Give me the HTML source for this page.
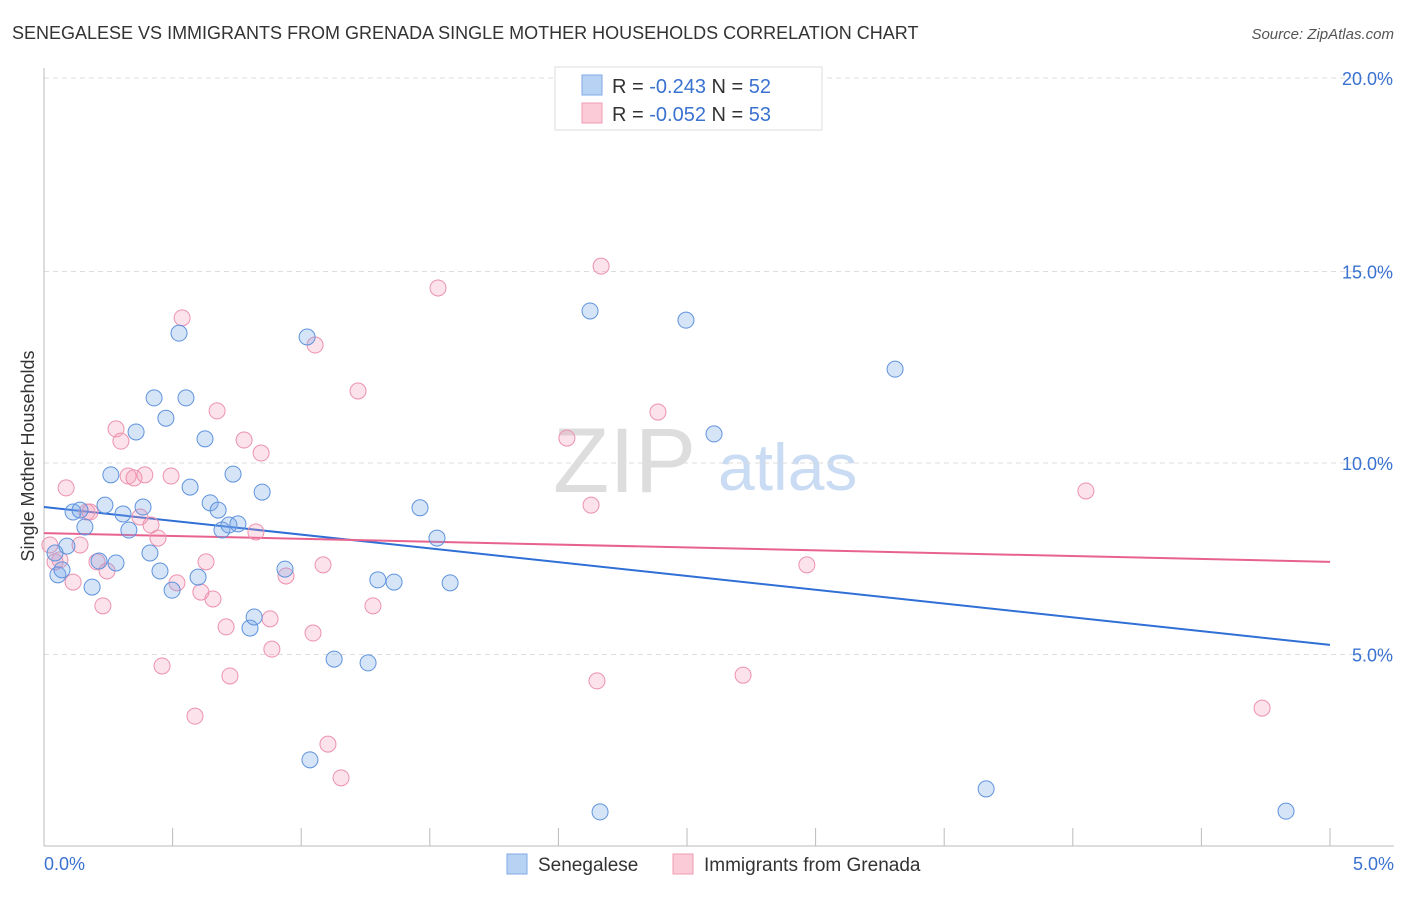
<!DOCTYPE html>
<html><head><meta charset="utf-8"><style>
body{margin:0;background:#fff;font-family:"Liberation Sans",sans-serif;}
svg text{font-family:"Liberation Sans",sans-serif;}
</style></head><body>
<svg id="chart" width="1406" height="892" viewBox="0 0 1406 892" xmlns="http://www.w3.org/2000/svg">
<text x="12" y="39" font-size="18" fill="#333">SENEGALESE VS IMMIGRANTS FROM GRENADA SINGLE MOTHER HOUSEHOLDS CORRELATION CHART</text>
<text x="1394" y="39" font-size="15" fill="#555" font-style="italic" text-anchor="end">Source: ZipAtlas.com</text>
<g>
<text x="553" y="492" font-size="92" fill="#ddd" font-family="Liberation Serif,serif">ZIP</text>
<text x="718" y="490" font-size="66" fill="#c9dcf3">atlas</text>
</g>
<g id="grid"></g>
<g id="axes"></g>
<g id="trends"></g>
<g id="points"></g>
<text transform="translate(34,456) rotate(-90)" font-size="18" fill="#333" text-anchor="middle">Single Mother Households</text>
<g>
<rect x="555" y="67" width="267" height="63" fill="#fff" stroke="#ddd"/>
<rect x="582" y="75" width="20" height="20" fill="#b8d2f4" stroke="#7faae6"/>
<rect x="582" y="103" width="20" height="20" fill="#fbcbd8" stroke="#ef9bb5"/>
<text x="612" y="93" font-size="20" fill="#333">R = <tspan fill="#3a72d0">-0.243</tspan>   N = <tspan fill="#3a72d0">52</tspan></text>
<text x="612" y="121" font-size="20" fill="#333">R = <tspan fill="#3a72d0">-0.052</tspan>   N = <tspan fill="#3a72d0">53</tspan></text>
</g>
<g>
<rect x="507" y="854" width="20" height="20" fill="#b8d2f4" stroke="#7faae6"/>
<text x="538" y="871" font-size="19" fill="#333">Senegalese</text>
<rect x="673" y="854" width="20" height="20" fill="#fbcbd8" stroke="#ef9bb5"/>
<text x="704" y="871" font-size="19" fill="#333">Immigrants from Grenada</text>
</g>
</svg>
<script>
const yTicks=[5,10,15,20];
const yTickLabels=["5.0%","10.0%","15.0%","20.0%"];
const xTickLabels=["0.0%","5.0%"];
const blueX=[0.043,0.054,0.070,0.089,0.113,0.140,0.159,0.187,0.214,0.237,0.260,0.280,0.307,0.330,0.358,0.385,0.412,0.428,0.451,0.474,0.498,0.525,0.552,0.568,0.599,0.626,0.646,0.677,0.692,0.719,0.735,0.754,0.801,0.817,0.848,0.937,1.023,1.034,1.128,1.260,1.298,1.361,1.462,1.528,1.579,2.123,2.162,2.496,2.605,3.309,3.663,4.829];
const blueY=[7.65,7.08,7.21,7.83,8.72,8.77,8.33,6.76,7.44,8.90,9.69,7.39,8.67,8.25,10.81,8.85,7.65,11.70,7.18,11.17,6.68,13.39,11.70,9.37,7.02,10.63,8.96,8.77,8.25,8.38,9.71,8.41,5.69,5.98,9.24,7.23,13.29,2.25,4.88,4.78,6.95,6.89,8.83,8.04,6.87,13.97,0.89,13.73,10.76,12.45,1.49,0.91];
const pinkX=[0.023,0.043,0.062,0.086,0.113,0.140,0.167,0.179,0.206,0.229,0.245,0.280,0.299,0.327,0.350,0.373,0.392,0.416,0.443,0.459,0.494,0.517,0.537,0.587,0.610,0.630,0.657,0.673,0.708,0.723,0.778,0.824,0.844,0.879,0.886,0.941,1.046,1.054,1.085,1.104,1.155,1.221,1.279,1.532,2.033,2.127,2.150,2.166,2.387,2.718,2.966,4.051,4.736];
const pinkY=[7.86,7.42,7.47,9.35,6.89,7.86,8.72,8.72,7.42,6.27,7.18,10.89,10.57,9.66,9.61,8.59,9.69,8.38,8.04,4.70,9.66,6.87,13.79,3.39,6.63,7.42,6.45,11.36,5.72,4.44,10.60,8.20,10.26,5.93,5.14,7.05,5.56,13.08,7.34,2.66,1.78,11.88,6.27,14.57,10.65,8.90,4.31,15.14,11.33,4.46,7.34,9.27,3.60];
const blueTrend=[8.85,5.25];
const pinkTrend=[8.17,7.42];
const NS="http://www.w3.org/2000/svg";
const X0=44,X1=1330,Y0=846,PXY=38.3;
function sx(v){return X0+v*(X1-X0)/5;}
function sy(v){return Y0-v*PXY;}
function mk(tag,attrs,parent){const e=document.createElementNS(NS,tag);for(const k in attrs)e.setAttribute(k,attrs[k]);parent.appendChild(e);return e;}
const grid=document.getElementById('grid'),axes=document.getElementById('axes'),trends=document.getElementById('trends'),pts=document.getElementById('points');
yTicks.forEach((t,i)=>{
  const l=mk('line',{x1:X0,x2:1394,y1:sy(t)-(t==20?2:0),y2:sy(t)-(t==20?2:0),stroke:'#ddd','stroke-dasharray':'5,4'},grid);
  
  
  const tx=mk('text',{x:1393,y:sy(t)+7-(t==20?2:0),'font-size':18,fill:'#3a72d0','text-anchor':'end'},axes);
  tx.textContent=yTickLabels[i];
  
  
});
const la=mk('line',{x1:X0,x2:X0,y1:68,y2:Y0,stroke:'#bbb'},axes);


const lb=mk('line',{x1:X0,x2:1394,y1:Y0,y2:Y0,stroke:'#bbb'},axes);


for(let k=1;k<=10;k++){
  const tk=mk('line',{x1:sx(k*0.5),x2:sx(k*0.5),y1:828,y2:Y0,stroke:'#bbb'},axes);
  
  
}
[[0,"start",44],[5,"end",1394]].forEach((d,i)=>{
  const tx=mk('text',{x:d[2],y:870,'font-size':18,fill:'#3a72d0','text-anchor':d[1]},axes);
  tx.textContent=xTickLabels[i];
  
  
});
function drawPts(xs,ys,fill,stroke,name){
  xs.forEach((x,i)=>{
    const c=mk('circle',{cx:sx(x),cy:sy(ys[i]),r:8,fill:fill,stroke:stroke,'stroke-width':1},pts);
    
    
  });
}
drawPts(pinkX,pinkY,'rgba(243,150,180,0.28)','#ec92ae','grenada-point');
drawPts(blueX,blueY,'rgba(120,165,232,0.30)','#5f93dd','senegalese-point');
const tb=mk('line',{x1:sx(0),x2:sx(5),y1:sy(blueTrend[0]),y2:sy(blueTrend[1]),stroke:'#2f6fd6','stroke-width':2},trends);


const tp=mk('line',{x1:sx(0),x2:sx(5),y1:sy(pinkTrend[0]),y2:sy(pinkTrend[1]),stroke:'#e8628e','stroke-width':2},trends);


</script>
</body></html>
